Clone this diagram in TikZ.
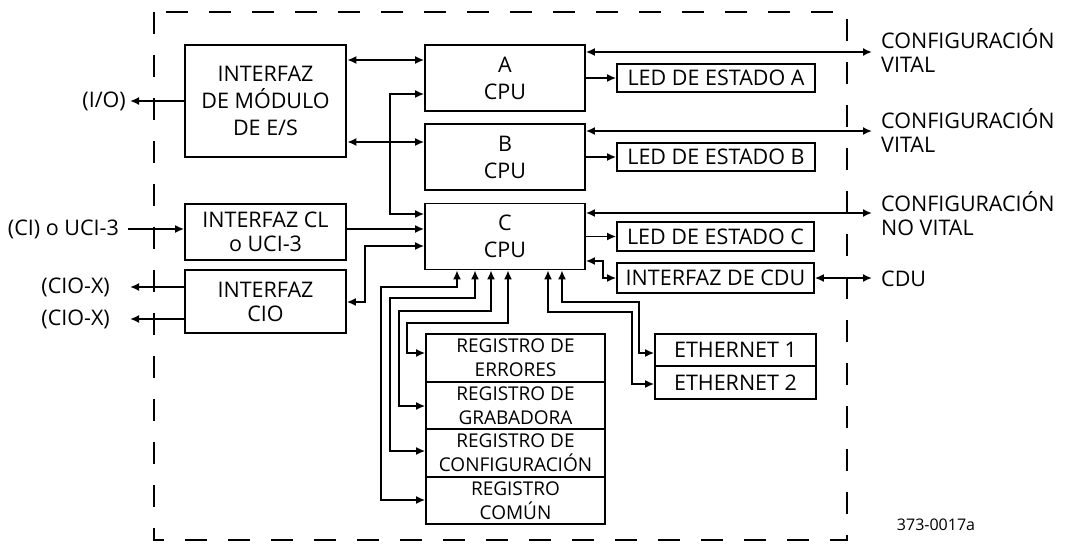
\documentclass[tikz,border=0pt]{standalone}
\usepackage{fontspec}
\setmainfont{Open Sans}
\usetikzlibrary{arrows.meta}
\tikzset{
  box/.style={draw,line width=1.7pt,inner sep=0pt,align=center,font=\fontsize{21.5}{24}\selectfont},
  thickbox/.style={box,line width=2.6pt,font=\fontsize{21.5}{27}\selectfont},
  cpubox/.style={box,minimum width=160pt,minimum height=66pt,font=\fontsize{21.5}{27}\selectfont},
  regbox/.style={box,minimum width=179pt,font=\fontsize{19}{24}\selectfont},
  lbl/.style={inner sep=0pt,font=\fontsize{21.5}{24}\selectfont},
  conn/.style={line width=1.7pt},
  >={Latex[length=9pt,width=8pt]}
}
\begin{document}
\begin{tikzpicture}[x=1pt,y=-1pt]
\useasboundingbox (0,0) rectangle (1065,544);
% dashed enclosure
\draw[line width=1.8pt,dash pattern=on 22pt off 21pt] (154,12) rectangle (847,540);

% boxes
\node[thickbox,minimum width=161pt,minimum height=112pt] (io) at (265.5,101) {INTERFAZ\\DE MÓDULO\\DE E/S};
\node[box,minimum width=161pt,minimum height=56pt] (cl) at (265.5,232) {INTERFAZ CL\\o UCI-3};
\node[box,minimum width=161pt,minimum height=63pt] (cio) at (265.5,301.5) {INTERFAZ\\CIO};
\node[cpubox] (cpuA) at (505,78) {A\\CPU};
\node[cpubox] (cpuB) at (505,157) {B\\CPU};
\node[cpubox] (cpuC) at (505,236.5) {C\\CPU};
\node[box,minimum width=198pt,minimum height=28pt] (ledA) at (716,78) {LED DE ESTADO A};
\node[box,minimum width=198pt,minimum height=28pt] (ledB) at (716,157) {LED DE ESTADO B};
\node[box,minimum width=197pt,minimum height=29pt] (ledC) at (715.5,236.5) {LED DE ESTADO C};
\node[box,minimum width=197pt,minimum height=30pt] (cdui) at (715.5,278) {INTERFAZ DE CDU};
\node[box,minimum width=161pt,minimum height=32pt] (eth1) at (735.5,350) {ETHERNET 1};
\node[box,minimum width=161pt,minimum height=33pt] (eth2) at (735.5,382.5) {ETHERNET 2};
\node[regbox,minimum height=48pt] (reg1) at (515.5,358) {REGISTRO DE\\ERRORES};
\node[regbox,minimum height=47pt] (reg2) at (515.5,405.5) {REGISTRO DE\\GRABADORA};
\node[regbox,minimum height=48pt] (reg3) at (515.5,453) {REGISTRO DE\\CONFIGURACIÓN};
\node[regbox,minimum height=47pt] (reg4) at (515.5,500.5) {REGISTRO\\COMÚN};

% outside labels
\node[lbl,anchor=east] (lio) at (126,101) {(I/O)};
\node[lbl,anchor=east] (lci) at (119,229) {(CI) o UCI-3};
\node[lbl,anchor=east] (lcx1) at (110,287) {(CIO-X)};
\node[lbl,anchor=east] (lcx2) at (110,319) {(CIO-X)};
\node[lbl,anchor=base west,align=left] (lva) at (881,72) {CONFIGURACIÓN\\VITAL};
\node[lbl,anchor=base west,align=left] (lvb) at (881,152) {CONFIGURACIÓN\\VITAL};
\node[lbl,anchor=base west,align=left] (lnv) at (881,235) {CONFIGURACIÓN\\NO VITAL};
\node[lbl,anchor=west] (lcdu) at (881,279) {CDU};
\node[inner sep=0pt,font=\fontsize{16}{18}\selectfont] (fig) at (936,525) {373-0017a};

\coordinate (tio) at (130,101);
\coordinate (tci) at (128,229);
\coordinate (tcx1) at (130,287);
\coordinate (tcx2) at (130,319);
\coordinate (tva) at (872,52);
\coordinate (tvb) at (872,131);
\coordinate (tnv) at (872,213);
\coordinate (tcdu) at (872,278);

% left connectors
\draw[conn,->] (io.west) -- (tio);
\draw[conn,->] (tci) -- (cl.west|-tci);
\draw[conn,->] (cio.west|-tcx1) -- (tcx1);
\draw[conn,->] (cio.west|-tcx2) -- (tcx2);

% io to cpus
\draw[conn,<->] (io.east|-0,60) -- (cpuA.west|-0,60);
\draw[conn,<->] (io.east|-0,142) -- (cpuB.west|-0,142);
\draw[conn,<->] (cpuA.west|-0,94) -| (390,214) -- (cpuC.west|-0,214);
\draw[conn,->] (cl.east|-0,229) -- (cpuC.west|-0,229);
\draw[conn,<->] (cpuC.west|-0,246) -| (365,302) -- (cio.east|-0,302);

% right side
\draw[conn,<->] (cpuA.east|-tva) -- (tva);
\draw[conn,<->] (cpuB.east|-tvb) -- (tvb);
\draw[conn,<->] (cpuC.east|-tnv) -- (tnv);
\draw[conn,->] (cpuA.east|-ledA) -- (ledA.west);
\draw[conn,->] (cpuB.east|-ledB) -- (ledB.west);
\draw[conn,->] (cpuC.east|-ledC) -- (ledC.west);
\draw[conn,<->] (cpuC.east|-0,261) -| (603,278) -- (cdui.west);
\draw[conn,<->] (cdui.east) -- (tcdu);

% bottom of C
\draw[conn,<->] (cpuC.south-|457,0) |- (381,287) |- (reg4.west|-0,500);
\draw[conn,<->] (cpuC.south-|475,0) |- (390,298) |- (reg3.west|-0,451);
\draw[conn,<->] (cpuC.south-|491,0) |- (399,311) |- (reg2.west|-0,406);
\draw[conn,<->] (cpuC.south-|508,0) |- (407,323) |- (reg1.west|-0,353);
\draw[conn,<->] (cpuC.south-|548,0) |- (632,312) |- (eth2.west|-0,384);
\draw[conn,<->] (cpuC.south-|562,0) |- (639,302) |- (eth1.west|-0,353);
\end{tikzpicture}
\end{document}
